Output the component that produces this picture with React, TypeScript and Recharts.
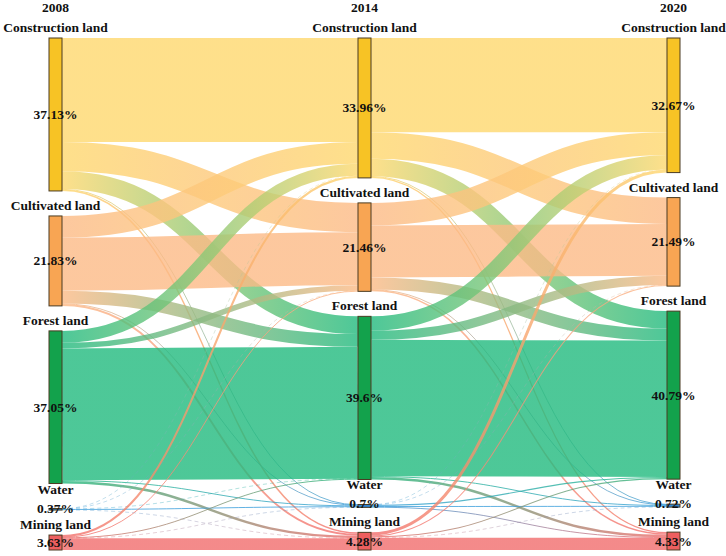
import React from "react";
import { Sankey } from "recharts";

// land-use classes and survey years
const categories = ["Construction land", "Cultivated land", "Forest land", "Water", "Mining land"];
const years = ["2008", "2014", "2020"];

// share of each class (%) per year
const share2008 = [37.13, 21.83, 37.05, 0.37, 3.63];
const share2014 = [33.96, 21.46, 39.6, 0.7, 4.28];
const share2020 = [32.67, 21.49, 40.79, 0.72, 4.33];

// transition matrices, rows = from class, cols = to class (% of area)
const flow2008to2014 = [
  [25.23, 7.12, 4.3, 0.13, 0.35],
  [5.3, 12.87, 3.1, 0.1, 0.46],
  [2.9, 1.35, 32.0, 0.2, 0.6],
  [0.03, 0.03, 0.05, 0.23, 0.03],
  [0.5, 0.1, 0.15, 0.04, 2.84],
];
const flow2014to2020 = [
  [22.9, 6.4, 4.24, 0.12, 0.3],
  [5.5, 12.59, 2.91, 0.1, 0.36],
  [3.5, 2.2, 33.1, 0.2, 0.6],
  [0.05, 0.05, 0.28, 0.22, 0.1],
  [0.72, 0.25, 0.26, 0.08, 2.97],
];

const nodeColors = ["#F7C325", "#F8A553", "#13A24C", "#2E84D0", "#EE5F5F"];
const linkColors = ["#FED86E", "#FCBA86", "#21BA7E", "#3A9EDB", "#F16D6D"];

const FONT = '"Liberation Serif", "Times New Roman", serif';

const shares = [share2008, share2014, share2020];
const flows = [flow2008to2014, flow2014to2020];

const nodes = shares.flatMap((col, yi) =>
  col.map((v, ci) => ({
    name: `${categories[ci]} ${years[yi]}`,
    label: categories[ci],
    pct: v,
    cat: ci,
    col: yi,
  }))
);

const links = flows.flatMap((m, k) =>
  m.flatMap((row, i) =>
    row.map((v, j) => ({
      source: k * categories.length + i,
      target: (k + 1) * categories.length + j,
      value: v,
      fromCat: i,
      toCat: j,
    }))
  )
);

const FlowLink = (props: any) => {
  const { sourceX, targetX, sourceY, targetY, sourceControlX, targetControlX, linkWidth, index, payload } = props;
  const from = payload.fromCat ?? payload.source?.cat ?? 0;
  const to = payload.toCat ?? payload.target?.cat ?? 0;
  const id = `flow-grad-${index}`;
  const d = `M${sourceX},${sourceY}C${sourceControlX},${sourceY} ${targetControlX},${targetY} ${targetX},${targetY}`;
  const thin = linkWidth < 0.4;
  return (
    <g>
      <defs>
        <linearGradient id={id} gradientUnits="userSpaceOnUse" x1={sourceX} y1={0} x2={targetX} y2={0}>
          <stop offset="0%" stopColor={linkColors[from]} />
          <stop offset="100%" stopColor={linkColors[to]} />
        </linearGradient>
      </defs>
      <path
        d={d}
        fill="none"
        stroke={`url(#${id})`}
        strokeWidth={thin ? 0.8 : Math.max(linkWidth, 1)}
        strokeOpacity={thin ? 0.45 : 0.8}
        strokeDasharray={thin ? "4 3" : undefined}
      />
    </g>
  );
};

const LandNode = (props: any) => {
  const { x, y, width, height, payload } = props;
  const cx = x + width / 2;
  const tiny = height < 6;
  const txt = {
    fontFamily: FONT,
    fontSize: 13.5,
    fontWeight: "bold" as const,
    fill: "#111",
    textAnchor: "middle" as const,
  };
  return (
    <g>
      <rect
        x={x}
        y={y}
        width={width}
        height={Math.max(height, 1.5)}
        fill={nodeColors[payload.cat]}
        stroke="#4a3b22"
        strokeWidth={1}
      />
      {payload.cat === 0 && (
        <text x={cx} y={12} {...txt}>
          {years[payload.col]}
        </text>
      )}
      <text x={cx} y={tiny ? y - 15 : y - 6} {...txt}>
        {payload.label}
      </text>
      <text x={cx} y={tiny ? y + 4 : y + height / 2 + 4.5} {...txt}>
        {`${payload.pct}%`}
      </text>
    </g>
  );
};

export default function App() {
  return (
    <div style={{ position: "absolute", left: 0, top: 0, width: 726, height: 556, background: "#fff" }}>
      <Sankey
        width={726}
        height={556}
        data={{ nodes, links }}
        nodeWidth={13}
        nodePadding={25}
        iterations={0}
        sort={false}
        margin={{ top: 38, left: 49, right: 46, bottom: 6 }}
        node={LandNode}
        link={FlowLink}
      />
    </div>
  );
}
